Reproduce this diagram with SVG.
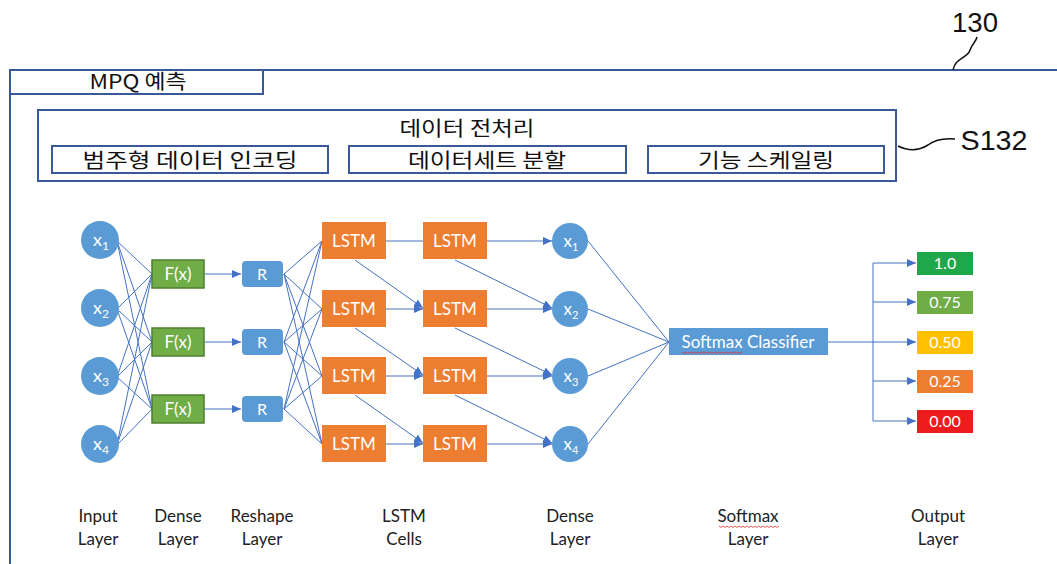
<svg xmlns="http://www.w3.org/2000/svg" width="1057" height="564" viewBox="0 0 1057 564">
<style>
.frame{fill:none;stroke:#3b5998;stroke-width:2}
.box{fill:#fff;stroke:#3b5998;stroke-width:2}
.kr{font-family:"Noto Sans CJK KR","Noto Sans",sans-serif;font-size:20px;fill:#111;text-anchor:middle}
.ref{font-family:"Liberation Sans",Arial,sans-serif;fill:#111;text-anchor:middle}
.conn{stroke:#4472c4;stroke-width:1;fill:none}
.circ{fill:#5b9bd5}
.wt{font-family:Lato,"Open Sans",sans-serif;fill:#fff;text-anchor:middle}
.lbl{font-family:Lato,"Open Sans",sans-serif;font-size:17px;fill:#222;text-anchor:middle}
.fx{fill:#70ad47;stroke:#507e32;stroke-width:1.5}
.rb{fill:#5b9bd5}
.lstm{fill:#ed7d31}
.squig{fill:none;stroke:#e03030;stroke-width:0.8}
</style>
<defs>
<marker id="ah" markerUnits="userSpaceOnUse" markerWidth="10" markerHeight="10" refX="9" refY="5" orient="auto">
<path d="M0,1 L9,5 L0,9 Z" fill="#4472c4"/>
</marker>
</defs>

<g id="frame">
<path class="frame" d="M10,564 L10,70 L1057,70"/>
<rect class="box" x="10" y="70" width="253" height="24"/>
<text class="kr" x="138" y="89" textLength="97" lengthAdjust="spacingAndGlyphs">MPQ 예측</text>
<path d="M953,70 C955,58 968,58 970,50 C972,44 976,42 977,37" fill="none" stroke="#111" stroke-width="1.5"/>
<text class="ref" x="975" y="32" font-size="27" textLength="46" lengthAdjust="spacingAndGlyphs">130</text>
</g>

<g id="preprocessing">
<rect class="box" x="38" y="110" width="858" height="71"/>
<text class="kr" x="467" y="136" textLength="135" lengthAdjust="spacingAndGlyphs">데이터 전처리</text>
<rect class="box" x="52" y="146" width="276" height="27"/>
<text class="kr" x="190" y="168" textLength="215" lengthAdjust="spacingAndGlyphs">범주형 데이터 인코딩</text>
<rect class="box" x="349" y="146" width="277" height="27"/>
<text class="kr" x="487" y="168" textLength="158" lengthAdjust="spacingAndGlyphs">데이터세트 분할</text>
<rect class="box" x="648" y="146" width="236" height="27"/>
<text class="kr" x="766" y="168" textLength="136" lengthAdjust="spacingAndGlyphs">기능 스케일링</text>
<path d="M898,146 C910,152 920,150 928,145 C936,139 945,138 955,139" fill="none" stroke="#111" stroke-width="1.5"/>
<text class="ref" x="994" y="150" font-size="28" textLength="67" lengthAdjust="spacingAndGlyphs">S132</text>
</g>

<g id="connectors">
<path class="conn" d="M117,241 L152,274 M117,241 L152,342 M117,241 L152,409
M117,309 L152,274 M117,309 L152,342 M117,309 L152,409
M117,377 L152,274 M117,377 L152,342 M117,377 L152,409
M117,445 L152,274 M117,445 L152,342 M117,445 L152,409"/>
<line class="conn" x1="204" y1="274" x2="241" y2="274" marker-end="url(#ah)"/>
<line class="conn" x1="204" y1="342" x2="241" y2="342" marker-end="url(#ah)"/>
<line class="conn" x1="204" y1="409" x2="241" y2="409" marker-end="url(#ah)"/>
<path class="conn" d="M284,274 L322,241 M284,274 L322,309 M284,274 L322,376 M284,274 L322,444
M284,342 L322,241 M284,342 L322,309 M284,342 L322,376 M284,342 L322,444
M284,409 L322,241 M284,409 L322,309 M284,409 L322,376 M284,409 L322,444"/>
<line class="conn" x1="386" y1="241" x2="423" y2="241"/>
<line class="conn" x1="386" y1="309" x2="423" y2="309" marker-end="url(#ah)"/>
<line class="conn" x1="386" y1="376" x2="423" y2="376" marker-end="url(#ah)"/>
<line class="conn" x1="386" y1="444" x2="423" y2="444" marker-end="url(#ah)"/>
<line class="conn" x1="355" y1="260" x2="423" y2="308" marker-end="url(#ah)"/>
<line class="conn" x1="355" y1="328" x2="423" y2="375" marker-end="url(#ah)"/>
<line class="conn" x1="355" y1="395" x2="423" y2="443" marker-end="url(#ah)"/>
<line class="conn" x1="487" y1="241" x2="552" y2="241" marker-end="url(#ah)"/>
<line class="conn" x1="487" y1="309" x2="552" y2="309" marker-end="url(#ah)"/>
<line class="conn" x1="487" y1="376" x2="552" y2="376" marker-end="url(#ah)"/>
<line class="conn" x1="487" y1="444" x2="552" y2="444" marker-end="url(#ah)"/>
<line class="conn" x1="455" y1="260" x2="552" y2="308" marker-end="url(#ah)"/>
<line class="conn" x1="455" y1="328" x2="552" y2="375" marker-end="url(#ah)"/>
<line class="conn" x1="455" y1="395" x2="552" y2="443" marker-end="url(#ah)"/>
<path class="conn" d="M588,241 L669,342 M588,309 L669,342 M588,376 L669,342 M588,444 L669,342"/>
<path class="conn" d="M828,342 L873,342 M873,263 L873,421"/>
<line class="conn" x1="873" y1="263" x2="916" y2="263" marker-end="url(#ah)"/>
<line class="conn" x1="873" y1="302" x2="916" y2="302" marker-end="url(#ah)"/>
<line class="conn" x1="873" y1="342" x2="916" y2="342" marker-end="url(#ah)"/>
<line class="conn" x1="873" y1="381" x2="916" y2="381" marker-end="url(#ah)"/>
<line class="conn" x1="873" y1="421" x2="916" y2="421" marker-end="url(#ah)"/>
</g>

<g id="input-x1"><circle class="circ" cx="100" cy="240" r="19"/><text class="wt" x="101" y="246" font-size="18">x<tspan font-size="12" dy="4">1</tspan></text></g>
<g id="input-x2"><circle class="circ" cx="100" cy="308" r="19"/><text class="wt" x="101" y="314" font-size="18">x<tspan font-size="12" dy="4">2</tspan></text></g>
<g id="input-x3"><circle class="circ" cx="100" cy="376" r="19"/><text class="wt" x="101" y="382" font-size="18">x<tspan font-size="12" dy="4">3</tspan></text></g>
<g id="input-x4"><circle class="circ" cx="100" cy="444" r="19"/><text class="wt" x="101" y="450" font-size="18">x<tspan font-size="12" dy="4">4</tspan></text></g>

<g id="dense-f1"><rect class="fx" x="152" y="260" width="52" height="28"/><text class="wt" x="178" y="280" font-size="17">F(x)</text></g>
<g id="dense-f2"><rect class="fx" x="152" y="328" width="52" height="28"/><text class="wt" x="178" y="348" font-size="17">F(x)</text></g>
<g id="dense-f3"><rect class="fx" x="152" y="395" width="52" height="28"/><text class="wt" x="178" y="415" font-size="17">F(x)</text></g>

<g id="reshape-r1"><rect class="rb" x="242" y="261" width="41" height="26" rx="4"/><text class="wt" x="262" y="280" font-size="16">R</text></g>
<g id="reshape-r2"><rect class="rb" x="242" y="329" width="41" height="26" rx="4"/><text class="wt" x="262" y="348" font-size="16">R</text></g>
<g id="reshape-r3"><rect class="rb" x="242" y="396" width="41" height="26" rx="4"/><text class="wt" x="262" y="415" font-size="16">R</text></g>

<g id="lstm-a1"><rect class="lstm" x="322" y="222" width="64" height="37"/><text class="wt" x="354" y="247" font-size="17">LSTM</text></g>
<g id="lstm-a2"><rect class="lstm" x="322" y="290" width="64" height="37"/><text class="wt" x="354" y="315" font-size="17">LSTM</text></g>
<g id="lstm-a3"><rect class="lstm" x="322" y="357" width="64" height="37"/><text class="wt" x="354" y="382" font-size="17">LSTM</text></g>
<g id="lstm-a4"><rect class="lstm" x="322" y="425" width="64" height="37"/><text class="wt" x="354" y="450" font-size="17">LSTM</text></g>
<g id="lstm-b1"><rect class="lstm" x="423" y="222" width="64" height="37"/><text class="wt" x="455" y="247" font-size="17">LSTM</text></g>
<g id="lstm-b2"><rect class="lstm" x="423" y="290" width="64" height="37"/><text class="wt" x="455" y="315" font-size="17">LSTM</text></g>
<g id="lstm-b3"><rect class="lstm" x="423" y="357" width="64" height="37"/><text class="wt" x="455" y="382" font-size="17">LSTM</text></g>
<g id="lstm-b4"><rect class="lstm" x="423" y="425" width="64" height="37"/><text class="wt" x="455" y="450" font-size="17">LSTM</text></g>

<g id="dense-x1"><circle class="circ" cx="570" cy="241" r="18"/><text class="wt" x="571" y="247" font-size="17">x<tspan font-size="11" dy="4">1</tspan></text></g>
<g id="dense-x2"><circle class="circ" cx="570" cy="309" r="18"/><text class="wt" x="571" y="315" font-size="17">x<tspan font-size="11" dy="4">2</tspan></text></g>
<g id="dense-x3"><circle class="circ" cx="570" cy="376" r="18"/><text class="wt" x="571" y="382" font-size="17">x<tspan font-size="11" dy="4">3</tspan></text></g>
<g id="dense-x4"><circle class="circ" cx="570" cy="444" r="18"/><text class="wt" x="571" y="450" font-size="17">x<tspan font-size="11" dy="4">4</tspan></text></g>

<g id="softmax">
<rect class="rb" x="669" y="328" width="159" height="27"/>
<text class="wt" x="748" y="348" font-size="17">Softmax Classifier</text>
<path class="squig" d="M682,352 l2,1.5 l2,-1.5 l2,1.5 l2,-1.5 l2,1.5 l2,-1.5 l2,1.5 l2,-1.5 l2,1.5 l2,-1.5 l2,1.5 l2,-1.5 l2,1.5 l2,-1.5 l2,1.5 l2,-1.5 l2,1.5 l2,-1.5 l2,1.5 l2,-1.5 l2,1.5 l2,-1.5 l2,1.5 l2,-1.5 l2,1.5 l2,-1.5 l2,1.5 l2,-1.5 l2,1.5 l2,-1.5"/>
</g>

<g id="out-100"><rect x="917" y="252" width="56" height="23" fill="#1ea84b"/><text class="wt" x="945" y="269" font-size="16">1.0</text></g>
<g id="out-075"><rect x="917" y="291" width="56" height="23" fill="#70ad47"/><text class="wt" x="945" y="308" font-size="16">0.75</text></g>
<g id="out-050"><rect x="917" y="331" width="56" height="23" fill="#ffc000"/><text class="wt" x="945" y="348" font-size="16">0.50</text></g>
<g id="out-025"><rect x="917" y="370" width="56" height="23" fill="#ed7d31"/><text class="wt" x="945" y="387" font-size="16">0.25</text></g>
<g id="out-000"><rect x="917" y="410" width="56" height="23" fill="#ee1c1c"/><text class="wt" x="945" y="427" font-size="16">0.00</text></g>

<g id="labels">
<text class="lbl" x="98" y="522">Input</text><text class="lbl" x="98" y="545">Layer</text>
<text class="lbl" x="178" y="522">Dense</text><text class="lbl" x="178" y="545">Layer</text>
<text class="lbl" x="262" y="522">Reshape</text><text class="lbl" x="262" y="545">Layer</text>
<text class="lbl" x="404" y="522">LSTM</text><text class="lbl" x="404" y="545">Cells</text>
<text class="lbl" x="570" y="522">Dense</text><text class="lbl" x="570" y="545">Layer</text>
<text class="lbl" x="748" y="522">Softmax</text><text class="lbl" x="748" y="545">Layer</text>
<path class="squig" d="M719,526 l2,1.5 l2,-1.5 l2,1.5 l2,-1.5 l2,1.5 l2,-1.5 l2,1.5 l2,-1.5 l2,1.5 l2,-1.5 l2,1.5 l2,-1.5 l2,1.5 l2,-1.5 l2,1.5 l2,-1.5 l2,1.5 l2,-1.5 l2,1.5 l2,-1.5 l2,1.5 l2,-1.5 l2,1.5 l2,-1.5 l2,1.5 l2,-1.5 l2,1.5 l2,-1.5 l2,1.5 l2,-1.5"/>
<text class="lbl" x="938" y="522">Output</text><text class="lbl" x="938" y="545">Layer</text>
</g>
</svg>
